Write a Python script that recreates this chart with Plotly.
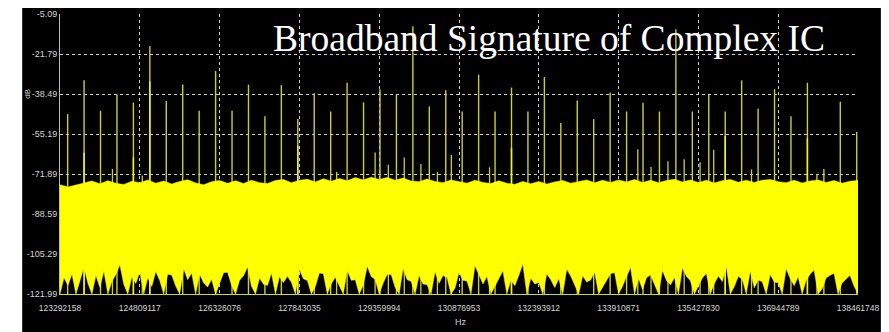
import numpy as np
import plotly.graph_objects as go

# Sweep span and axis labelling
FREQ_START = 123292158
FREQ_STOP = 138461748
DB_TOP = -5.09
DB_FLOOR = -121.99

x_tick_vals = [123292158, 124809117, 126326076, 127843035, 129359994, 130876953,
               132393912, 133910871, 135427830, 136944789, 138461748]
y_tick_vals = [-121.99, -105.29, -88.59, -71.89, -55.19, -38.49, -21.79, -5.09]

# Clock harmonics (312.5 kHz comb) and their max-hold peak levels
harmonic_freq = [123437500, 123750000, 124062500, 124375000, 124687500, 125000000,
                 125312500, 125625000, 125937500, 126250000, 126562500, 126875000,
                 127187500, 127500000, 127812500, 128125000, 128437500, 128750000,
                 129062500, 129375000, 129687500, 130000000, 130312500, 130625000,
                 130937500, 131250000, 131562500, 131875000, 132187500, 132500000,
                 132812500, 133125000, 133437500, 133750000, 134062500, 134375000,
                 134687500, 135000000, 135312500, 135625000, 135937500, 136250000,
                 136562500, 136875000, 137187500, 137500000, 137812500, 138125000,
                 138437500]
harmonic_peak_db = [-46.9, -32.8, -45.5, -38.7, -42.0, -18.5, -41.4, -34.5, -45.5, -28.9,
                    -45.5, -34.6, -47.8, -34.8, -48.9, -38.2, -45.8, -33.8, -42.0, -36.5,
                    -38.9, -10.2, -43.7, -36.9, -45.8, -30.4, -45.8, -35.8, -45.8, -31.4,
                    -50.6, -41.2, -48.9, -37.9, -45.8, -42.1, -45.8, -11.5, -45.8, -38.9,
                    -45.8, -32.8, -44.7, -36.5, -47.8, -33.8, -69.8, -41.7, -54.4]

# Current-sweep level on a few of the harmonics (brighter trace)
live_freq = [123750000, 124687500, 125000000, 127812500, 131875000, 135937500, 137500000]
live_db = [-63.0, -65.0, -33.3, -60.0, -61.0, -56.0, -57.0]

# Weaker spurs between the harmonics
spur_freq = [124289000, 124856400, 128550400, 129282400, 129534000, 129836600,
             130152500, 130466500, 130731300, 131457600, 134275900, 134527500,
             134849000, 135157300, 135460000, 135719100, 136437900, 137680600]
spur_db = [-69.8, -72.5, -71.0, -62.9, -68.0, -65.0, -67.7, -71.0, -64.0, -69.1,
           -61.6, -69.0, -66.6, -65.7, -67.0, -61.8, -70.0, -72.0]

# Noise floor: upper envelope of the trace
noise_top_db = [
    -76.4, -77.3, -76.5, -75.8, -74.8, -76.0, -74.7, -75.8, -76.3, -74.9,
    -75.5, -74.4, -75.7, -74.8, -76.1, -75.0, -74.3, -75.6, -76.4, -75.1,
    -74.6, -75.8, -74.7, -75.9, -74.5, -75.5, -75.9, -74.6, -74.2, -75.5,
    -74.5, -74.1, -75.2, -73.9, -74.9, -73.8, -74.7, -73.4, -74.4, -73.2,
    -74.2, -73.3, -74.5, -73.6, -74.8, -75.1, -74.0, -75.0, -75.5, -74.4,
    -75.2, -75.7, -74.5, -75.4, -75.9, -74.7, -75.8, -76.2, -75.0, -76.0,
    -75.0, -76.1, -75.2, -74.6, -75.7, -74.9, -74.4, -75.5, -74.5, -75.4,
    -74.4, -75.2, -74.2, -75.4, -74.5, -75.5, -74.6, -74.1, -75.2, -74.4,
    -75.4, -74.5, -75.6, -74.7, -74.2, -75.3, -74.5, -75.4, -74.5, -74.2,
    -75.1, -75.5, -74.5, -75.6, -74.8, -74.4, -75.4, -74.6, -75.7, -74.9,
    -74.6]

# Noise floor: lower envelope of the trace (dips toward the display floor)
noise_bottom_db = [
    -121.99, -115.2, -118.4, -113.6, -121.99, -116.8, -110.9, -117.5, -121.99, -114.3,
    -119.2, -112.4, -121.99, -116.8, -113.9, -109.8, -118.0, -121.99, -114.9, -117.6,
    -112.8, -121.99, -115.2, -118.9, -112.6, -116.4, -121.99, -113.7, -114.1, -118.7,
    -121.99, -111.5, -116.0, -113.2, -121.99, -113.7, -117.3, -119.1, -115.8, -121.99,
    -117.6, -113.1, -112.9, -118.3, -121.99, -116.2, -114.4, -110.7, -118.8, -121.99,
    -115.3, -117.9, -118.4, -113.2, -121.99, -114.8, -117.2, -114.6, -117.1, -121.99,
    -111.8, -115.6, -116.4, -121.99, -118.9, -113.2, -113.5, -121.99, -117.7, -115.0,
    -118.5, -121.99, -112.1, -116.3, -116.0, -121.99, -118.3, -110.4, -114.7, -115.9,
    -121.99, -117.4, -113.8, -113.9, -119.2, -121.99, -111.2, -116.0, -116.7, -121.99,
    -114.3, -117.8, -118.1, -121.99, -112.7, -117.5, -114.3, -115.1, -121.99, -119.5,
    -113.0, -116.2, -116.6, -121.99, -110.2, -113.9, -117.8, -114.7, -121.99, -119.0,
    -115.6, -112.3, -121.99, -116.1, -118.5, -114.2, -109.5, -121.99, -115.4, -117.8,
    -117.2, -121.99, -113.6, -116.0, -119.3, -115.6, -121.99, -111.6, -114.5, -118.0,
    -121.99, -114.4, -117.0, -116.1, -112.8, -121.99, -119.7, -116.3, -113.4, -113.1,
    -121.99, -118.7, -114.9, -110.8, -121.99, -115.5, -120.1, -115.2, -114.0, -117.9,
    -121.99, -112.2, -116.4, -118.2, -115.1, -121.99, -111.1, -114.6, -116.5, -121.99,
    -119.0, -115.3, -113.4, -121.99, -117.6, -114.5, -116.8, -110.6, -121.99, -118.9,
    -114.6, -115.8, -121.99, -112.5, -119.4, -116.1, -116.9, -121.99, -113.8, -117.0,
    -117.3, -121.99, -111.4, -115.5, -118.5, -114.8, -121.99, -116.2, -113.7, -112.0,
    -121.99, -119.9, -115.3, -114.2, -113.3, -121.99, -117.4, -116.0, -114.2, -118.6,
    -121.99]

TITLE = "Broadband Signature of Complex IC"
LABEL_FONT = "Liberation Sans Narrow, Arial Narrow, Liberation Sans, Arial, sans-serif"

# Frequency bins of the sweep for each envelope
top_bins = np.linspace(FREQ_START, FREQ_STOP, len(noise_top_db))
bottom_bins = np.linspace(FREQ_START, FREQ_STOP, len(noise_bottom_db))


def stems(freqs, levels, base):
    xs, ys = [], []
    for f, v in zip(freqs, levels):
        xs += [f, f, None]
        ys += [base, v, None]
    return xs, ys


fig = go.Figure()

hx, hy = stems(harmonic_freq, harmonic_peak_db, DB_FLOOR)
fig.add_trace(go.Scatter(x=hx, y=hy, mode="lines",
                         line=dict(color="#cdcd38", width=1.4), hoverinfo="skip"))
sx, sy = stems(spur_freq, spur_db, DB_FLOOR)
fig.add_trace(go.Scatter(x=sx, y=sy, mode="lines",
                         line=dict(color="#cdcd38", width=1.3), hoverinfo="skip"))
lx, ly = stems(live_freq, live_db, DB_FLOOR)
fig.add_trace(go.Scatter(x=lx, y=ly, mode="lines",
                         line=dict(color="#f2f222", width=1.5), hoverinfo="skip"))

# Noise floor band as one filled outline
band_x = list(top_bins) + list(bottom_bins[::-1])
band_y = list(noise_top_db) + list(noise_bottom_db[::-1])
fig.add_trace(go.Scatter(x=band_x, y=band_y, mode="lines", fill="toself",
                         fillcolor="#ffff00", line=dict(color="#ffff00", width=0.5),
                         hoverinfo="skip"))

L, R, T, B = 60, 27, 9, 38
W, H = 889, 332
pw, ph = W - L - R, H - T - B


def px(xp):
    return (xp - L) / pw


def py(yp):
    return (H - B - yp) / ph


fig.update_layout(
    width=W, height=H,
    margin=dict(l=L, r=R, t=T, b=B),
    paper_bgcolor="white",
    plot_bgcolor="black",
    showlegend=False,
    shapes=[dict(type="rect", xref="paper", yref="paper", layer="below",
                 x0=px(22), x1=px(885), y0=py(340), y1=py(3),
                 fillcolor="black", line=dict(width=0))],
    xaxis=dict(range=[FREQ_START, FREQ_STOP], tickvals=x_tick_vals,
               ticktext=[str(v) for v in x_tick_vals], ticks="",
               ticklabelstandoff=6,
               tickfont=dict(family=LABEL_FONT, size=8.5, color="#d6d6d6"),
               showgrid=True, gridcolor="#d0d0d0", griddash="dot", gridwidth=1,
               zeroline=False, showline=True, linecolor="#d8d820", linewidth=1),
    yaxis=dict(range=[DB_FLOOR, DB_TOP], tickvals=y_tick_vals,
               ticktext=["%.2f" % v for v in y_tick_vals], ticks="",
               tickfont=dict(family=LABEL_FONT, size=9, color="#d6d6d6"),
               showgrid=True, gridcolor="#d0d0d0", griddash="dot", gridwidth=1,
               zeroline=False, showline=True, linecolor="#bdbdbd", linewidth=1),
    annotations=[
        dict(text=TITLE, xref="paper", yref="paper", x=px(272), y=py(34),
             xanchor="left", yanchor="middle", showarrow=False,
             font=dict(family="Liberation Serif, Times New Roman, serif",
                       size=37.5, color="white")),
        dict(text="Hz", xref="paper", yref="paper", x=px(463), y=py(322),
             xanchor="center", yanchor="middle", showarrow=False,
             font=dict(family=LABEL_FONT, size=9, color="#d6d6d6")),
        dict(text="dB", xref="paper", yref="paper", x=px(27), y=py(90),
             xanchor="center", yanchor="middle", showarrow=False, textangle=-90,
             font=dict(family=LABEL_FONT, size=8, color="#d6d6d6")),
    ],
)

fig.write_html("out.html")
